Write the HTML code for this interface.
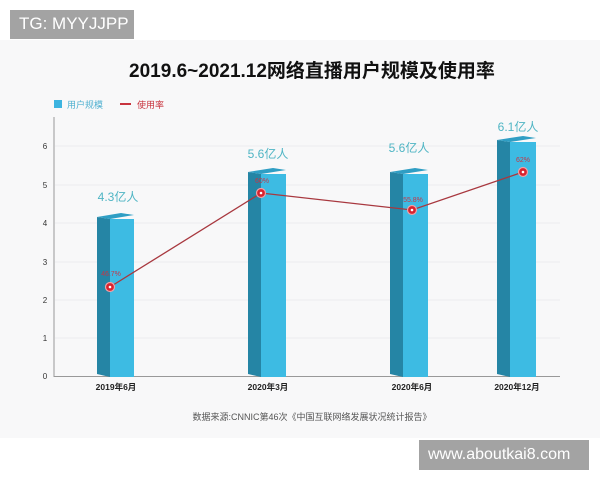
<!DOCTYPE html>
<html><head><meta charset="utf-8"><style>
body{margin:0;width:600px;height:480px;background:#fff;overflow:hidden;font-family:"Liberation Sans","Noto Sans CJK SC",sans-serif;position:relative}
.panel{position:absolute;left:0;top:40px;width:600px;height:398px;background:#f8f8f9}
.wm{position:absolute;background:#a3a3a3;color:#fff;font-size:17px;line-height:28px;padding-left:9px}
</style></head><body>
<div class="panel"></div>
<div class="wm" style="left:10px;top:10px;width:115px;height:29px">TG: MYYJJPP</div>
<svg width="600" height="480" style="position:absolute;left:0;top:0" font-family="Liberation Sans, Noto Sans CJK SC, sans-serif">
<text x="312" y="77" text-anchor="middle" font-size="19" font-weight="bold" fill="#111">2019.6~2021.12网络直播用户规模及使用率</text>
<rect x="54" y="100" width="8" height="8" fill="#3db4e0"/>
<text x="67" y="108" font-size="9" fill="#4fb0d0">用户规模</text>
<line x1="120" y1="104" x2="131" y2="104" stroke="#c8343e" stroke-width="2"/>
<text x="137" y="108" font-size="9" fill="#c8343e">使用率</text>
<g stroke="#ececee" stroke-width="1">
<line x1="55" y1="338" x2="560" y2="338"/><line x1="55" y1="300" x2="560" y2="300"/><line x1="55" y1="262" x2="560" y2="262"/><line x1="55" y1="223" x2="560" y2="223"/><line x1="55" y1="185" x2="560" y2="185"/><line x1="55" y1="146" x2="560" y2="146"/>
</g>
<line x1="54" y1="117" x2="54" y2="377" stroke="#999"/>
<line x1="54" y1="376.5" x2="560" y2="376.5" stroke="#999"/>
<g font-size="8" fill="#333" text-anchor="middle">
<text x="45" y="379">0</text><text x="45" y="341">1</text><text x="45" y="303">2</text><text x="45" y="265">3</text><text x="45" y="226">4</text><text x="45" y="188">5</text><text x="45" y="149">6</text>
</g>
<g>
<polygon points="97,217 110,219 110,377 97,374" fill="#2585a5"/><rect x="110" y="219" width="24" height="158" fill="#3dbbe3"/><polygon points="97,217 121,213 134,215 110,219" fill="#2f9ec4"/>
<polygon points="248,172 261,174 261,377 248,374" fill="#2585a5"/><rect x="261" y="174" width="25" height="203" fill="#3dbbe3"/><polygon points="248,172 273,168 286,170 261,174" fill="#2f9ec4"/>
<polygon points="390,172 403,174 403,377 390,374" fill="#2585a5"/><rect x="403" y="174" width="25" height="203" fill="#3dbbe3"/><polygon points="390,172 415,168 428,170 403,174" fill="#2f9ec4"/>
<polygon points="497,140 510,142 510,377 497,374" fill="#2585a5"/><rect x="510" y="142" width="26" height="235" fill="#3dbbe3"/><polygon points="497,140 523,136 536,138 510,142" fill="#2f9ec4"/>
</g>
<g font-size="12" fill="#4fb5c4" text-anchor="middle">
<text x="118" y="201">4.3亿人</text><text x="268" y="158">5.6亿人</text><text x="409" y="152">5.6亿人</text><text x="518" y="131">6.1亿人</text>
</g>
<polyline points="110,287 261,193 412,210 523,172" fill="none" stroke="#a8383f" stroke-width="1.3"/>
<g fill="#d8232f" stroke="#f0a0a5" stroke-width="1.2">
<circle cx="110" cy="287" r="4.5"/><circle cx="261" cy="193" r="4.5"/><circle cx="412" cy="210" r="4.5"/><circle cx="523" cy="172" r="4.5"/>
</g>
<g fill="#fff"><circle cx="110" cy="287" r="1.3"/><circle cx="261" cy="193" r="1.3"/><circle cx="412" cy="210" r="1.3"/><circle cx="523" cy="172" r="1.3"/></g>
<g font-size="7" fill="#c23848" text-anchor="middle">
<text x="111" y="276">46.7%</text><text x="262" y="183">60%</text><text x="413" y="202">55.8%</text><text x="523" y="162">62%</text>
</g>
<g font-size="8.5" font-weight="bold" fill="#222" text-anchor="middle">
<text x="116" y="390">2019年6月</text><text x="268" y="390">2020年3月</text><text x="412" y="390">2020年6月</text><text x="517" y="390">2020年12月</text>
</g>
<text x="312" y="420" text-anchor="middle" font-size="9" fill="#555">数据来源:CNNIC第46次《中国互联网络发展状况统计报告》</text>
</svg>
<div class="wm" style="left:419px;top:440px;width:161px;height:30px;line-height:30px;font-size:16px">www.aboutkai8.com</div>
</body></html>
